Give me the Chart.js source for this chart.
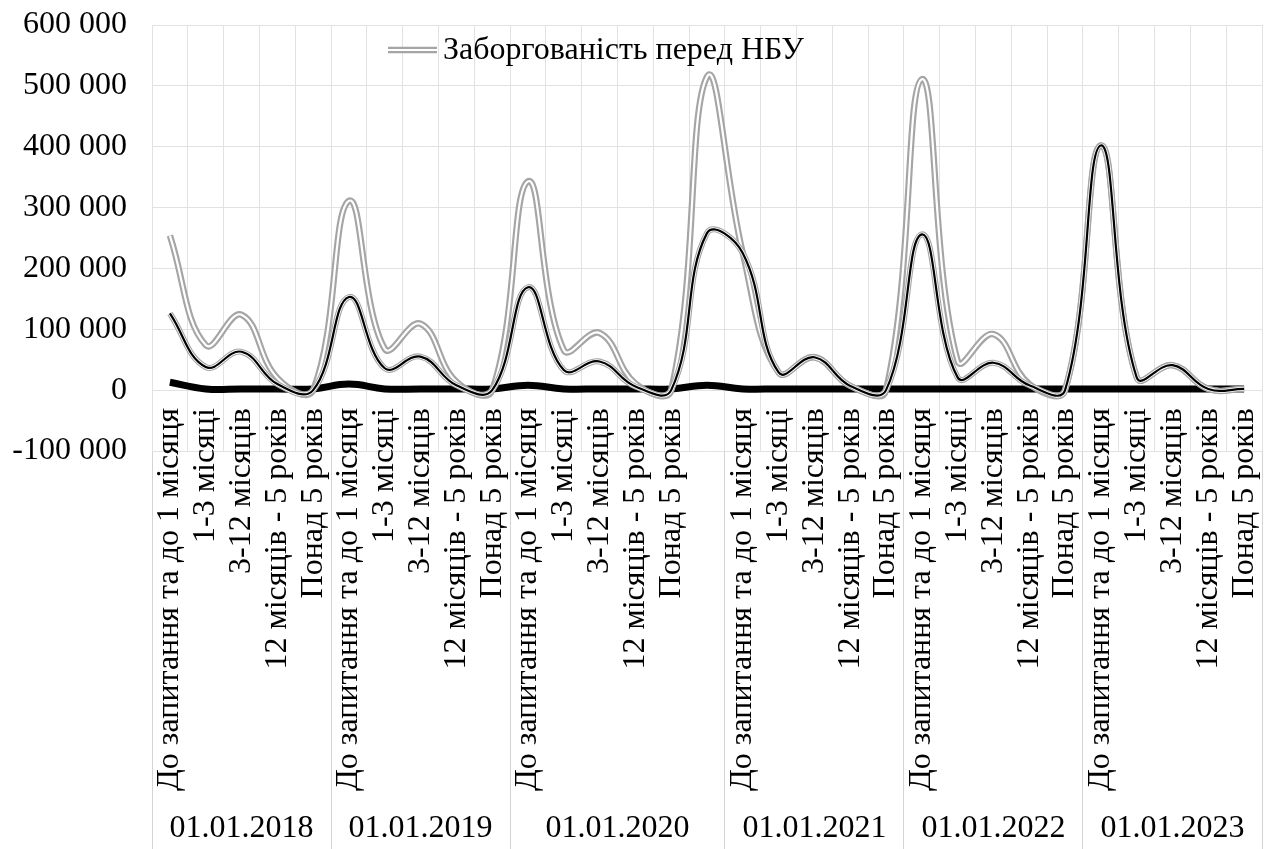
<!DOCTYPE html>
<html>
<head>
<meta charset="utf-8">
<title>Заборгованість перед НБУ</title>
<script src="https://cdn.jsdelivr.net/npm/chart.js@4.4.1/dist/chart.umd.min.js"></script>
<style>
  html, body { margin: 0; padding: 0; background: #fff; }
  canvas { display: block; }
  .font-warm { position: absolute; left: -10000px; top: 0; font: 32px Liberation Serif; white-space: nowrap; }
</style>
</head>
<body>
<canvas id="myChart" width="1272" height="849"></canvas>
<div class="font-warm">Заборгованість перед НБУ 600 000 До запитання та до 1 місяця 01.01.2018</div>
<script>
const terms = ['До запитання та до 1 місяця', '1-3 місяці', '3-12 місяців', '12 місяців - 5 років', 'Понад 5 років'];
const dates = ['01.01.2018', '01.01.2019', '01.01.2020', '01.01.2021', '01.01.2022', '01.01.2023'];
const groupSizes = [5, 5, 6, 5, 5, 5];
// у групі 2020 є шостий рядок без підпису
const labels = [...terms, ...terms, ...terms, '', ...terms, ...terms, ...terms];

const yTicks = [-100000, 0, 100000, 200000, 300000, 400000, 500000, 600000];

// сіра подвійна лінія (в легенді)
const nbuDebt = [
    254000, 74000, 124000, 20000, 0,
    311000, 68000, 109000, 14000, 0,
    343000, 66000, 94000, 11000, 0, 515000,
    225000, 29000, 54000, 7000, 0,
    511000, 48000, 92000, 10000, 0,
    402000, 21000, 41000, 2000, 2000
];
// чорна лінія з сірою облямівкою
const seriesB = [
    126000, 38000, 63000, 10000, 0,
    153000, 36000, 55000, 8000, 0,
    169000, 33000, 47000, 6000, 0, 258000,
    225000, 29000, 54000, 7000, 0,
    256000, 21000, 45000, 8000, 0,
    402000, 21000, 41000, 2000, 2000
];
// товста чорна лінія біля нуля
const seriesC = [
    13000, 2000, 2000, 2000, 2000,
    10000, 2000, 2000, 2000, 2000,
    8000, 2000, 2000, 2000, 2000, 8000,
    2000, 2000, 2000, 2000, 2000,
    2000, 2000, 2000, 2000, 2000,
    2000, 2000, 2000, 2000, 2000
];

// межі та центри груп дат на осі
const groupEdges = [-0.5];
const groupCenters = [];
groupSizes.forEach((n) => {
    const start = groupEdges[groupEdges.length - 1];
    groupCenters.push(start + n / 2);
    groupEdges.push(start + n);
});

const gray = '#a5a5a5';
const gridColor = '#e2e2e2';
const fontFamily = 'Liberation Serif';

Chart.defaults.font.family = fontFamily;
Chart.defaults.font.size = 32;
Chart.defaults.color = '#000';

function fmt(v) {
    return String(v).replace(/\B(?=(\d{3})+(?!\d))/g, ' ');
}

const line = { pointRadius: 0, tension: 0.42, fill: false, borderCapStyle: 'butt', borderJoinStyle: 'round' };

const legendLine = {
    id: 'legendLine',
    afterDraw(chart) {
        const c = chart.ctx;
        const ds = chart.data.datasets.find((d) => d.label);
        const x = chart.chartArea.left + 236;
        const y = 50;
        c.save();
        c.lineCap = 'butt';
        c.strokeStyle = gray;
        c.lineWidth = 6.5;
        c.beginPath(); c.moveTo(x, y); c.lineTo(x + 49, y); c.stroke();
        c.strokeStyle = '#fff';
        c.lineWidth = 2.2;
        c.beginPath(); c.moveTo(x, y); c.lineTo(x + 49, y); c.stroke();
        c.fillStyle = '#000';
        c.font = '32px ' + fontFamily;
        c.textBaseline = 'middle';
        c.fillText(ds.label, x + 55, y + 1);
        c.restore();
    }
};

let myChart = null;

function renderChart() {
    const ctx = document.getElementById('myChart');
    if (myChart !== null) {
        myChart.destroy();
    }
    myChart = new Chart(ctx, {
        type: 'line',
        data: {
            labels: labels,
            datasets: [
                { ...line, data: seriesB, borderColor: '#000', borderWidth: 2.2, order: 0 },
                { ...line, data: seriesB, borderColor: '#fff', borderWidth: 3.8, order: 1 },
                { ...line, data: seriesB, borderColor: gray, borderWidth: 6, order: 2 },
                { ...line, data: nbuDebt, borderColor: '#fff', borderWidth: 2.2, order: 3 },
                { ...line, label: 'Заборгованість перед НБУ', data: nbuDebt, borderColor: gray, borderWidth: 6.5, order: 4 },
                { ...line, data: seriesC, borderColor: '#000', borderWidth: 7, order: 5 }
            ]
        },
        options: {
            responsive: false,
            animation: false,
            events: [],
            layout: {
                padding: { top: 25, right: 10, bottom: 0, left: 0 }
            },
            plugins: {
                legend: { display: false },
                tooltip: { enabled: false }
            },
            scales: {
                x: {
                    type: 'category',
                    position: { y: 0 },
                    offset: true,
                    grid: { color: gridColor, offset: true, drawTicks: false },
                    border: { color: gridColor },
                    ticks: { autoSkip: false, minRotation: 90, maxRotation: 90, padding: 18 },
                    afterFit: (scale) => {
                        scale.height = 0;
                        scale.paddingLeft = 0;
                        scale.paddingRight = 0;
                    }
                },
                dates: {
                    axis: 'x',
                    type: 'linear',
                    position: 'bottom',
                    min: groupEdges[0],
                    max: groupEdges[groupEdges.length - 1],
                    border: { display: false },
                    grid: {
                        drawOnChartArea: false,
                        drawTicks: true,
                        tickLength: 398,
                        tickWidth: 1,
                        tickColor: (c) => (c.tick && groupEdges.includes(c.tick.value) ? '#d4d4d4' : 'rgba(0,0,0,0)')
                    },
                    afterBuildTicks: (scale) => {
                        scale.ticks = [...groupEdges, ...groupCenters].sort((a, b) => a - b).map((v) => ({ value: v }));
                    },
                    ticks: {
                        autoSkip: false,
                        maxRotation: 0,
                        padding: -40,
                        callback: (v) => {
                            const i = groupCenters.indexOf(v);
                            return i >= 0 ? dates[i] : '';
                        }
                    },
                    afterFit: (scale) => {
                        scale.height = 398;
                        scale.paddingLeft = 0;
                        scale.paddingRight = 0;
                    }
                },
                y: {
                    min: yTicks[0],
                    max: yTicks[yTicks.length - 1],
                    afterBuildTicks: (scale) => {
                        scale.ticks = yTicks.map((v) => ({ value: v }));
                    },
                    grid: { color: gridColor, drawTicks: false },
                    border: { color: gridColor },
                    ticks: { padding: 25, callback: (v) => fmt(v) },
                    afterFit: (scale) => {
                        scale.width = 152;
                        scale.paddingTop = 0;
                        scale.paddingBottom = 0;
                    }
                }
            }
        },
        plugins: [legendLine]
    });
}

renderChart();
// перемалювати, коли шрифт точно підхопиться
document.fonts.ready.then(renderChart);
</script>
</body>
</html>
